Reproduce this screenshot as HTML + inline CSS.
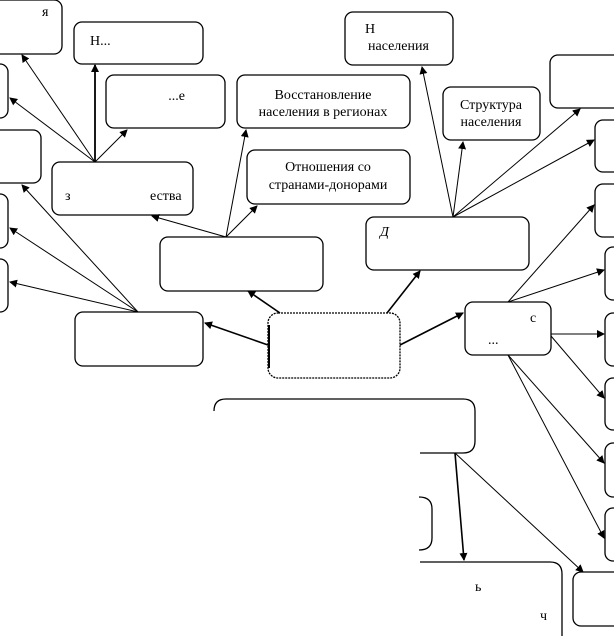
<!DOCTYPE html>
<html><head><meta charset="utf-8"><style>
html,body{margin:0;padding:0;background:#fff;}
svg{display:block;}
text{font-family:"Liberation Serif",serif;font-size:14px;fill:#000;}
</style></head><body>
<svg width="614" height="637" viewBox="0 0 614 637" xmlns="http://www.w3.org/2000/svg">
<defs><marker id="a" markerWidth="8" markerHeight="8" refX="7" refY="4" orient="auto" markerUnits="userSpaceOnUse"><path d="M0,0 L8,4 L0,8 z" fill="#000"/></marker></defs>
<g fill="none" stroke="#000" stroke-width="1.3">
<rect x="-20" y="0" width="82" height="54" rx="8"/>
<rect x="74" y="22" width="129" height="42" rx="8"/>
<rect x="-20" y="64" width="28" height="54" rx="8"/>
<rect x="106" y="75" width="119" height="53" rx="8"/>
<rect x="237" y="75" width="173" height="53" rx="8"/>
<rect x="-20" y="130" width="61" height="53" rx="8"/>
<rect x="52" y="162" width="141" height="53" rx="8"/>
<rect x="247" y="150" width="163" height="54" rx="8"/>
<rect x="-20" y="194" width="28" height="54" rx="8"/>
<rect x="-20" y="259" width="28" height="53" rx="8"/>
<rect x="160" y="237" width="163" height="54" rx="8"/>
<rect x="345" y="12" width="108" height="53" rx="8"/>
<rect x="443" y="87" width="97" height="53" rx="8"/>
<rect x="550" y="55" width="80" height="53" rx="8"/>
<rect x="595" y="120" width="30" height="52" rx="8"/>
<rect x="595" y="184" width="30" height="53" rx="8"/>
<rect x="605" y="247" width="30" height="53" rx="8"/>
<rect x="366" y="217" width="163" height="53" rx="8"/>
<rect x="75" y="312" width="128" height="54" rx="8"/>
<rect x="268" y="313" width="132" height="65" rx="10" stroke-dasharray="2,1"/>
<line x1="269" y1="325" x2="269" y2="368" stroke-width="2"/>
<rect x="465" y="302" width="86" height="53" rx="8"/>
<rect x="605" y="313" width="30" height="53" rx="8"/>
<rect x="605" y="378" width="30" height="52" rx="8"/>
<rect x="605" y="443" width="30" height="54" rx="8"/>
<rect x="605" y="508" width="30" height="53" rx="8"/>
<path d="M214,411 Q214,399 226,399 L463,399 Q475,399 475,411 L475,441 Q475,453 463,453 L420,453"/>
<path d="M419,497 Q432,497 432,509 L432,538 Q432,550 419,550"/>
<path d="M420,562 L550,562 Q562,562 562,574 L562,636"/>
<rect x="573" y="572" width="60" height="54" rx="8"/>
</g>
<g stroke="#000" stroke-width="1" marker-end="url(#a)">
<line x1="95" y1="162" x2="95" y2="65" stroke-width="1.8"/>
<line x1="95" y1="162" x2="22" y2="55"/>
<line x1="95" y1="162" x2="10" y2="98"/>
<line x1="95" y1="162" x2="127" y2="130"/>
<line x1="138" y1="312" x2="22" y2="185"/>
<line x1="138" y1="312" x2="10" y2="228"/>
<line x1="138" y1="312" x2="10" y2="282"/>
<line x1="226" y1="237" x2="152" y2="216"/>
<line x1="226" y1="237" x2="246" y2="130"/>
<line x1="226" y1="237" x2="257" y2="206"/>
<line x1="268" y1="345" x2="205" y2="323" stroke-width="1.6"/>
<line x1="280" y1="313" x2="248" y2="291" stroke-width="1.6"/>
<line x1="387" y1="313" x2="420" y2="271" stroke-width="1.6"/>
<line x1="400" y1="345" x2="463" y2="313" stroke-width="1.6"/>
<line x1="453" y1="217" x2="422" y2="67"/>
<line x1="453" y1="217" x2="463" y2="142"/>
<line x1="453" y1="217" x2="580" y2="109"/>
<line x1="453" y1="217" x2="594" y2="140"/>
<line x1="508" y1="302" x2="594" y2="205"/>
<line x1="508" y1="302" x2="604" y2="270"/>
<line x1="551" y1="334" x2="604" y2="334"/>
<line x1="551" y1="336" x2="604" y2="398"/>
<line x1="508" y1="355" x2="604" y2="463"/>
<line x1="508" y1="355" x2="604" y2="538"/>
<line x1="455" y1="453" x2="464" y2="560" stroke-width="1.6"/>
<line x1="455" y1="453" x2="583" y2="572"/>
</g>
<text x="185" y="100" text-anchor="end" font-size="12">...е</text>
<text x="323" y="99" text-anchor="middle">Восстановление</text>
<text x="323" y="116" text-anchor="middle">населения в регионах</text>
<text x="328" y="171" text-anchor="middle">Отношения со</text>
<text x="328" y="189" text-anchor="middle">странами-донорами</text>
<text x="491" y="109" text-anchor="middle">Структура</text>
<text x="491" y="126" text-anchor="middle">населения</text>
<text x="365" y="33">Н</text>
<text x="368" y="50" font-size="12">населения</text>
<text x="90" y="45">Н...</text>
<text x="65" y="200">з</text><text x="150" y="200" font-size="12">ества</text>
<text x="380" y="236" font-style="italic">Д</text>
<text x="42" y="16">я</text>
<text x="530" y="322">с</text>
<text x="488" y="344" font-size="10">...</text>
<text x="475" y="591" font-size="12">ь</text>
<text x="540" y="620" font-size="12">ч</text>
</svg>
</body></html>
